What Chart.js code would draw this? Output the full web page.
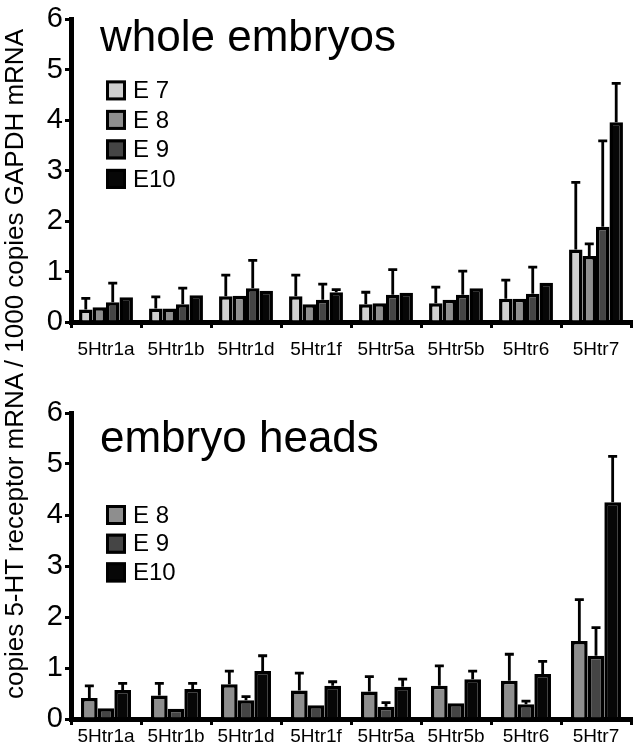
<!DOCTYPE html>
<html><head><meta charset="utf-8">
<script src="https://cdn.jsdelivr.net/npm/chart.js@4"></script>
<style>
html,body{margin:0;padding:0;background:#fff;}
body{width:633px;height:751px;position:relative;overflow:hidden;font-family:"Liberation Sans",Arial,sans-serif;}
#top{position:absolute;left:0;top:0;width:633px;height:365px;}
#bot{position:absolute;left:0;top:380px;width:633px;height:371px;}
#ytitle{position:absolute;left:0;top:0;width:728px;height:28px;line-height:28px;text-align:center;white-space:nowrap;font-size:26px;color:#000;transform-origin:0 0;transform:translate(0px,728px) rotate(-90deg);}
</style></head>
<body>
<div id="top"><canvas id="c1" width="633" height="365"></canvas></div>
<div id="bot"><canvas id="c2" width="633" height="371"></canvas></div>
<div id="ytitle">copies 5-HT receptor mRNA / 1000 copies GAPDH mRNA</div>
<script>
const FONT = '"Liberation Sans", Arial, sans-serif';
const categories = ['5Htr1a','5Htr1b','5Htr1d','5Htr1f','5Htr5a','5Htr5b','5Htr6','5Htr7'];

// whole embryos
const wholeE7     = [0.25, 0.27, 0.51, 0.51, 0.35, 0.37, 0.46, 1.44];
const wholeE7Err  = [0.22, 0.23, 0.42, 0.42, 0.24, 0.32, 0.37, 1.33];
const wholeE8     = [0.29, 0.27, 0.52, 0.35, 0.37, 0.44, 0.46, 1.31];
const wholeE8Err  = [0, 0, 0, 0, 0, 0, 0, 0.24];
const wholeE9     = [0.39, 0.35, 0.67, 0.44, 0.54, 0.54, 0.56, 1.89];
const wholeE9Err  = [0.38, 0.32, 0.55, 0.31, 0.50, 0.47, 0.53, 1.70];
const wholeE10    = [0.49, 0.53, 0.62, 0.59, 0.58, 0.67, 0.78, 3.96];
const wholeE10Err = [0, 0, 0, 0.05, 0, 0, 0, 0.77];

// embryo heads
const headE8     = [0.41, 0.46, 0.68, 0.56, 0.54, 0.65, 0.75, 1.53];
const headE8Err  = [0.24, 0.24, 0.26, 0.34, 0.29, 0.39, 0.52, 0.81];
const headE9     = [0.21, 0.20, 0.37, 0.27, 0.24, 0.31, 0.29, 1.24];
const headE9Err  = [0, 0, 0.07, 0, 0.08, 0, 0.06, 0.55];
const headE10    = [0.57, 0.59, 0.94, 0.65, 0.63, 0.78, 0.88, 4.25];
const headE10Err = [0.13, 0.11, 0.30, 0.08, 0.15, 0.16, 0.25, 0.90];

const seriesLabels = {E7:'E 7', E8:'E 8', E9:'E 9', E10:'E10'};
const colors = {E7:'#cfcfcf', E8:'#8e8e8e', E9:'#454545', E10:'#070707'};

const decor = {
  id: 'decor',
  afterDatasetsDraw(chart, args, opts) {
    const ctx = chart.ctx, ys = chart.scales.y;
    chart.data.datasets.forEach((ds, i) => {
      const meta = chart.getDatasetMeta(i);
      meta.data.forEach((bar, j) => {
        const e = ds.errors[j];
        if (!e) return;
        const yTop = ys.getPixelForValue(ds.data[j] + e);
        ctx.save();
        ctx.strokeStyle = '#000';
        ctx.lineWidth = 2.8;
        ctx.beginPath();
        ctx.moveTo(bar.x, bar.y);
        ctx.lineTo(bar.x, yTop);
        ctx.moveTo(bar.x - 4.5, yTop);
        ctx.lineTo(bar.x + 4.5, yTop);
        ctx.stroke();
        ctx.restore();
      });
    });
  },
  afterDraw(chart, args, opts) {
    const ctx = chart.ctx, ca = chart.chartArea;
    ctx.save();
    ctx.fillStyle = '#000';
    ctx.font = '44px ' + FONT;
    ctx.textBaseline = 'alphabetic';
    ctx.textAlign = 'left';
    ctx.fillText(opts.title, ca.left + opts.titleDx, ca.top + opts.titleDy);
    ctx.font = '24px ' + FONT;
    ctx.textBaseline = 'middle';
    chart.data.datasets.forEach((ds, i) => {
      const bx = ca.left + opts.legDx;
      const by = ca.top + opts.legDy + i * opts.legSpacing;
      ctx.fillStyle = ds.backgroundColor;
      ctx.fillRect(bx, by, 20, 20);
      ctx.strokeStyle = '#000';
      ctx.lineWidth = 3;
      ctx.strokeRect(bx + 1.5, by + 1.5, 17, 17);
      ctx.fillStyle = '#000';
      ctx.fillText(ds.label, bx + 27, by + 11);
    });
    ctx.restore();
  }
};

function ds(key, data, errors, catPct) {
  return {
    label: seriesLabels[key], data: data, errors: errors,
    backgroundColor: colors[key], borderColor: '#000', borderWidth: 3.5,
    barPercentage: 1.0, categoryPercentage: catPct
  };
}

function makeOptions(cfg) {
  return {
    responsive: false, animation: false,
    layout: {padding: {top: cfg.padTop, right: 2, left: 0, bottom: 0}},
    plugins: {
      legend: {display: false}, tooltip: {enabled: false},
      decor: cfg.decor
    },
    scales: {
      x: {
        grid: {display: true, drawOnChartArea: false, drawTicks: true, tickLength: 6, color: '#000', lineWidth: 3, offset: true},
        border: {display: true, color: '#000', width: 5},
        ticks: {color: '#000', font: {size: 19, family: FONT}, padding: cfg.xPad, maxRotation: 0, autoSkip: false},
        afterFit(s) { s.height = cfg.xH; }
      },
      y: {
        min: 0, max: 6,
        ticks: {stepSize: 1, color: '#000', font: {size: 29, family: FONT}, padding: 2},
        grid: {drawOnChartArea: false, drawTicks: true, tickLength: 6, color: '#000', lineWidth: 3},
        border: {display: true, color: '#000', width: 5},
        afterFit(s) { s.width = 71; }
      }
    }
  };
}

new Chart(document.getElementById('c1'), {
  type: 'bar',
  data: {
    labels: categories,
    datasets: [
      ds('E7', wholeE7, wholeE7Err, 0.77),
      ds('E8', wholeE8, wholeE8Err, 0.77),
      ds('E9', wholeE9, wholeE9Err, 0.77),
      ds('E10', wholeE10, wholeE10Err, 0.77)
    ]
  },
  options: makeOptions({padTop: 15, xH: 43, xPad: 10,
    decor: {title: 'whole embryos', titleDx: 29, titleDy: 32, legDx: 35, legDy: 61, legSpacing: 29.5}}),
  plugins: [decor]
});

new Chart(document.getElementById('c2'), {
  type: 'bar',
  data: {
    labels: categories,
    datasets: [
      ds('E8', headE8, headE8Err, 0.714),
      ds('E9', headE9, headE9Err, 0.714),
      ds('E10', headE10, headE10Err, 0.714)
    ]
  },
  options: makeOptions({padTop: 33, xH: 32, xPad: 0,
    decor: {title: 'embryo heads', titleDx: 29, titleDy: 39, legDx: 35, legDy: 92, legSpacing: 28.7}}),
  plugins: [decor]
});
</script>
</body></html>
